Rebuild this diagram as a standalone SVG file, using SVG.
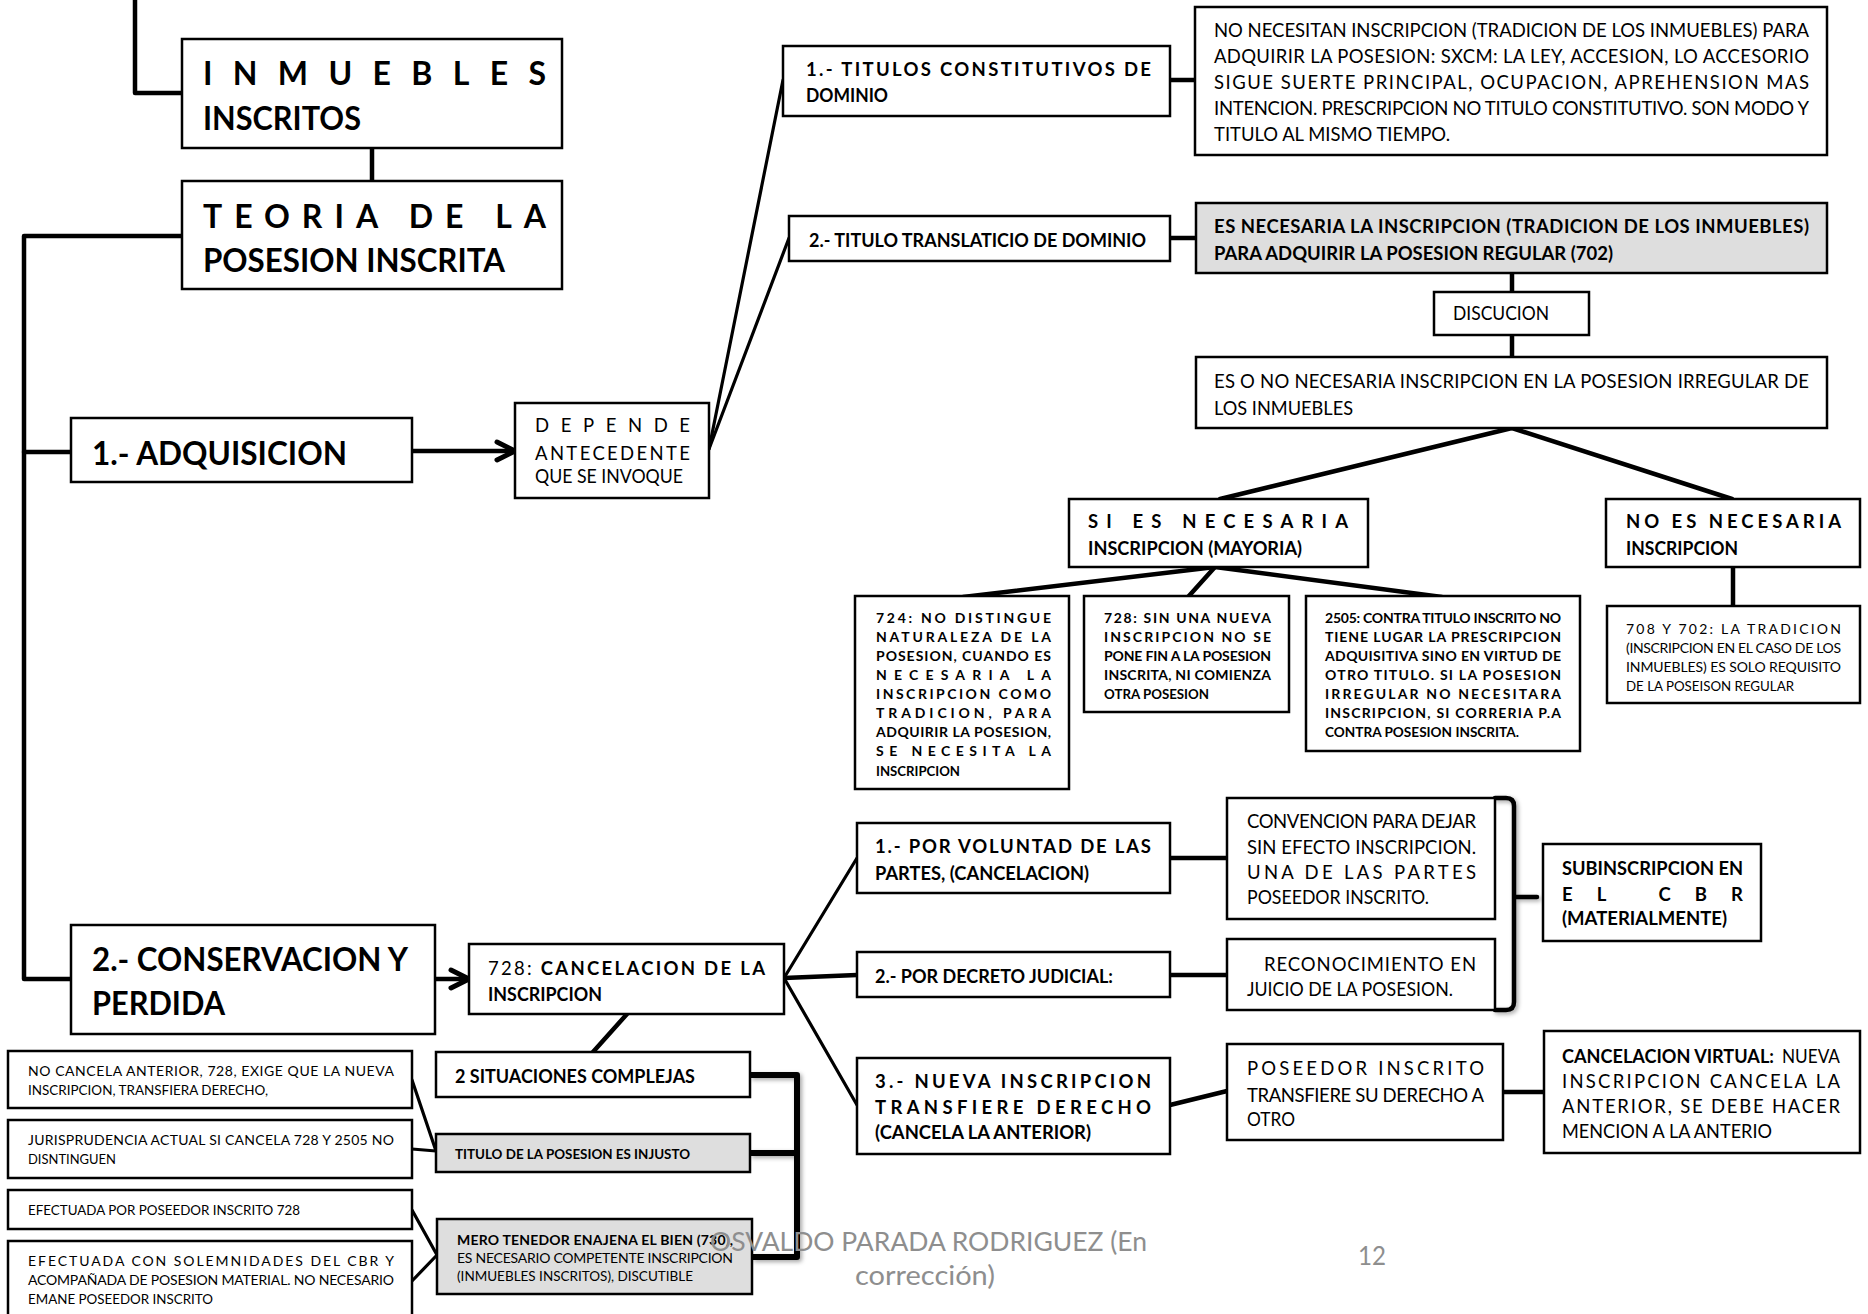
<svg xmlns="http://www.w3.org/2000/svg" width="1868" height="1314" viewBox="0 0 1868 1314">
<style>
.bx{fill:#fff;stroke:#000;stroke-width:2.5}
.gx{fill:#dedede;stroke:#000;stroke-width:2.5}
.c{fill:none;stroke:#000;stroke-width:4.5;stroke-linecap:round;stroke-linejoin:round}
.c3{fill:none;stroke:#000;stroke-width:3.2;stroke-linecap:round}
.c6{fill:none;stroke:#000;stroke-width:6;stroke-linejoin:round}
text{font-family:Lato,"Open Sans","Liberation Sans",sans-serif;fill:#000}
.b{font-weight:bold}
.r{font-weight:normal}
.xl{font-size:32px;font-weight:bold}
.md{font-size:18.5px}
.sm{font-size:14px}
.ft{font-size:27.5px;fill:#8e8e8e}
</style>
<defs>
<marker id="arr" viewBox="0 0 24 24" refX="21" refY="12" markerWidth="24" markerHeight="24" markerUnits="userSpaceOnUse" orient="auto">
<path d="M3,3 L21,12 L3,21" fill="none" stroke="#000" stroke-width="5" stroke-linecap="round" stroke-linejoin="round"/>
</marker>
<filter id="sh" x="-20%" y="-20%" width="140%" height="140%">
<feDropShadow dx="2" dy="2" stdDeviation="2" flood-color="#000" flood-opacity="0.35"/>
</filter>
</defs>

<g id="connectors">
<path class="c" d="M135,0 V93 H182"/>
<path class="c" d="M372,148 V181"/>
<path class="c" d="M182,236 H24 V979 H71"/>
<path class="c" d="M24,452 H71"/>
<path class="c" d="M412,451 H515" marker-end="url(#arr)"/>
<path class="c3" d="M709,449 L783,80"/>
<path class="c3" d="M709,449 L789,238"/>
<path class="c" d="M1170,80 H1195"/>
<path class="c" d="M1170,238 H1196"/>
<path class="c" d="M1512,273 V292"/>
<path class="c" d="M1512,335 V357"/>
<path class="c" d="M1512,428 L1220,499"/>
<path class="c" d="M1512,428 L1732,499"/>
<path class="c" d="M1215,567 L963,597"/>
<path class="c" d="M1215,567 L1188,597"/>
<path class="c" d="M1215,567 L1442,597"/>
<path class="c" d="M1733,567 V606"/>
<path class="c" d="M435,979 H469" marker-end="url(#arr)"/>
<path class="c" d="M627,1014 L593,1052"/>
<path class="c3" d="M784,978 L857,858"/>
<path class="c" d="M784,978 L857,975"/>
<path class="c3" d="M784,978 L857,1105"/>
<path class="c" d="M1170,858 H1227"/>
<path class="c" d="M1170,975 H1227"/>
<path class="c" d="M1170,1105 L1227,1091"/>
<path class="c" d="M1503,1092 H1544"/>
<path class="c" filter="url(#sh)" d="M1495,798 H1506 Q1514,798 1514,806 V1002 Q1514,1010 1506,1010 H1495 M1514,897 H1537"/>
<path class="c6" filter="url(#sh)" d="M750,1075 H797 V1257 H752 M797,1153 H750"/>
<path class="c3" d="M412,1080 L436,1151"/>
<path class="c3" d="M412,1149 L436,1151"/>
<path class="c3" d="M412,1210 L437,1255"/>
<path class="c3" d="M412,1281 L437,1255"/>
</g>

<g id="n-inmuebles">
<rect class="bx" x="182" y="39" width="380" height="109"/>
<text class="xl" x="203" y="85" textLength="343" lengthAdjust="spacing">INMUEBLES</text>
<text class="xl" x="203" y="130" textLength="158" lengthAdjust="spacingAndGlyphs">INSCRITOS</text>
</g>

<g id="n-teoria">
<rect class="bx" x="182" y="181" width="380" height="108"/>
<text class="xl" x="203" y="228" textLength="343" lengthAdjust="spacing">TEORIA DE LA</text>
<text class="xl" x="203" y="272" textLength="302" lengthAdjust="spacingAndGlyphs">POSESION INSCRITA</text>
</g>

<g id="n-adquisicion">
<rect class="bx" x="71" y="418" width="341" height="64"/>
<text class="xl" x="92" y="465" textLength="255" lengthAdjust="spacingAndGlyphs">1.- ADQUISICION</text>
</g>

<g id="n-depende">
<rect class="bx" x="515" y="403" width="194" height="95"/>
<text class="md" x="535" y="432" textLength="155" lengthAdjust="spacing">DEPENDE</text>
<text class="md" x="535" y="460" textLength="155" lengthAdjust="spacing">ANTECEDENTE</text>
<text class="md" x="535" y="483" textLength="148" lengthAdjust="spacingAndGlyphs">QUE SE INVOQUE</text>
</g>

<g id="n-titulos-constitutivos">
<rect class="bx" x="783" y="46" width="387" height="70"/>
<text class="md b" x="806" y="76" textLength="345" lengthAdjust="spacing">1.- TITULOS CONSTITUTIVOS DE</text>
<text class="md b" x="806" y="102" textLength="82" lengthAdjust="spacingAndGlyphs">DOMINIO</text>
</g>

<g id="n-no-necesitan">
<rect class="bx" x="1195" y="7" width="632" height="148"/>
<text class="md" x="1214" y="37" textLength="595" lengthAdjust="spacing">NO NECESITAN INSCRIPCION (TRADICION DE LOS INMUEBLES) PARA</text>
<text class="md" x="1214" y="63" textLength="595" lengthAdjust="spacing">ADQUIRIR LA POSESION: SXCM: LA LEY, ACCESION, LO ACCESORIO</text>
<text class="md" x="1214" y="89" textLength="595" lengthAdjust="spacing">SIGUE SUERTE PRINCIPAL, OCUPACION, APREHENSION MAS</text>
<text class="md" x="1214" y="115" textLength="595" lengthAdjust="spacing">INTENCION. PRESCRIPCION NO TITULO CONSTITUTIVO. SON MODO Y</text>
<text class="md" x="1214" y="141" textLength="236" lengthAdjust="spacingAndGlyphs">TITULO AL MISMO TIEMPO.</text>
</g>

<g id="n-titulo-translaticio">
<rect class="bx" x="789" y="216" width="381" height="45"/>
<text class="md b" x="809" y="247" textLength="337" lengthAdjust="spacingAndGlyphs">2.- TITULO TRANSLATICIO DE DOMINIO</text>
</g>

<g id="n-es-necesaria">
<rect class="gx" x="1196" y="203" width="631" height="70"/>
<text class="md b" x="1214" y="233" textLength="595" lengthAdjust="spacing">ES NECESARIA LA INSCRIPCION (TRADICION DE LOS INMUEBLES)</text>
<text class="md b" x="1214" y="260" textLength="399" lengthAdjust="spacingAndGlyphs">PARA ADQUIRIR LA POSESION REGULAR (702)</text>
</g>

<g id="n-discucion">
<rect class="bx" x="1434" y="292" width="155" height="43"/>
<text class="md" x="1453" y="320" textLength="96" lengthAdjust="spacingAndGlyphs">DISCUCION</text>
</g>

<g id="n-es-o-no">
<rect class="bx" x="1196" y="357" width="631" height="71"/>
<text class="md" x="1214" y="388" textLength="595" lengthAdjust="spacing">ES O NO NECESARIA INSCRIPCION EN LA POSESION IRREGULAR DE</text>
<text class="md" x="1214" y="415" textLength="139" lengthAdjust="spacingAndGlyphs">LOS INMUEBLES</text>
</g>

<g id="n-si-es">
<rect class="bx" x="1069" y="499" width="299" height="68"/>
<text class="md b" x="1088" y="528" textLength="260" lengthAdjust="spacing">SI ES NECESARIA</text>
<text class="md b" x="1088" y="555" textLength="214" lengthAdjust="spacingAndGlyphs">INSCRIPCION (MAYORIA)</text>
</g>

<g id="n-no-es">
<rect class="bx" x="1606" y="499" width="254" height="68"/>
<text class="md b" x="1626" y="528" textLength="215" lengthAdjust="spacing">NO ES NECESARIA</text>
<text class="md b" x="1626" y="555" textLength="112" lengthAdjust="spacingAndGlyphs">INSCRIPCION</text>
</g>

<g id="n-724">
<rect class="bx" x="855" y="596" width="214" height="193"/>
<text class="sm b" x="876" y="623" textLength="175" lengthAdjust="spacing">724: NO DISTINGUE</text>
<text class="sm b" x="876" y="642" textLength="175" lengthAdjust="spacing">NATURALEZA DE LA</text>
<text class="sm b" x="876" y="661" textLength="175" lengthAdjust="spacing">POSESION, CUANDO ES</text>
<text class="sm b" x="876" y="680" textLength="175" lengthAdjust="spacing">NECESARIA LA</text>
<text class="sm b" x="876" y="699" textLength="175" lengthAdjust="spacing">INSCRIPCION COMO</text>
<text class="sm b" x="876" y="718" textLength="175" lengthAdjust="spacing">TRADICION, PARA</text>
<text class="sm b" x="876" y="737" textLength="175" lengthAdjust="spacing">ADQUIRIR LA POSESION,</text>
<text class="sm b" x="876" y="756" textLength="175" lengthAdjust="spacing">SE NECESITA LA</text>
<text class="sm b" x="876" y="776" textLength="84" lengthAdjust="spacingAndGlyphs">INSCRIPCION</text>
</g>

<g id="n-728-sin">
<rect class="bx" x="1084" y="596" width="205" height="116"/>
<text class="sm b" x="1104" y="623" textLength="167" lengthAdjust="spacing">728: SIN UNA NUEVA</text>
<text class="sm b" x="1104" y="642" textLength="167" lengthAdjust="spacing">INSCRIPCION NO SE</text>
<text class="sm b" x="1104" y="661" textLength="167" lengthAdjust="spacing">PONE FIN A LA POSESION</text>
<text class="sm b" x="1104" y="680" textLength="167" lengthAdjust="spacing">INSCRITA, NI COMIENZA</text>
<text class="sm b" x="1104" y="699" textLength="105" lengthAdjust="spacingAndGlyphs">OTRA POSESION</text>
</g>

<g id="n-2505">
<rect class="bx" x="1306" y="596" width="274" height="155"/>
<text class="sm b" x="1325" y="623" textLength="236" lengthAdjust="spacing">2505: CONTRA TITULO INSCRITO NO</text>
<text class="sm b" x="1325" y="642" textLength="236" lengthAdjust="spacing">TIENE LUGAR LA PRESCRIPCION</text>
<text class="sm b" x="1325" y="661" textLength="236" lengthAdjust="spacing">ADQUISITIVA SINO EN VIRTUD DE</text>
<text class="sm b" x="1325" y="680" textLength="236" lengthAdjust="spacing">OTRO TITULO. SI LA POSESION</text>
<text class="sm b" x="1325" y="699" textLength="236" lengthAdjust="spacing">IRREGULAR NO NECESITARA</text>
<text class="sm b" x="1325" y="718" textLength="236" lengthAdjust="spacing">INSCRIPCION, SI CORRERIA P.A</text>
<text class="sm b" x="1325" y="737" textLength="194" lengthAdjust="spacingAndGlyphs">CONTRA POSESION INSCRITA.</text>
</g>

<g id="n-708">
<rect class="bx" x="1607" y="606" width="253" height="97"/>
<text class="sm" x="1626" y="634" textLength="215" lengthAdjust="spacing">708 Y 702: LA TRADICION</text>
<text class="sm" x="1626" y="653" textLength="215" lengthAdjust="spacing">(INSCRIPCION EN EL CASO DE LOS</text>
<text class="sm" x="1626" y="672" textLength="215" lengthAdjust="spacing">INMUEBLES) ES SOLO REQUISITO</text>
<text class="sm" x="1626" y="691" textLength="168" lengthAdjust="spacingAndGlyphs">DE LA POSEISON REGULAR</text>
</g>

<g id="n-conservacion">
<rect class="bx" x="71" y="925" width="364" height="109"/>
<text class="xl" x="92" y="971" textLength="316" lengthAdjust="spacingAndGlyphs">2.- CONSERVACION Y</text>
<text class="xl" x="92" y="1015" textLength="133" lengthAdjust="spacingAndGlyphs">PERDIDA</text>
</g>

<g id="n-728-cancelacion">
<rect class="bx" x="469" y="944" width="315" height="70"/>
<text class="md b" x="488" y="975" textLength="277" lengthAdjust="spacing"><tspan class="r">728:</tspan> CANCELACION DE LA</text>
<text class="md b" x="488" y="1001" textLength="114" lengthAdjust="spacingAndGlyphs">INSCRIPCION</text>
</g>

<g id="n-2-situaciones">
<rect class="bx" x="436" y="1052" width="314" height="45"/>
<text class="md b" x="455" y="1083" textLength="240" lengthAdjust="spacingAndGlyphs">2 SITUACIONES COMPLEJAS</text>
</g>

<g id="n-titulo-injusto">
<rect class="gx" x="436" y="1134" width="314" height="38"/>
<text class="sm b" x="455" y="1159" textLength="235" lengthAdjust="spacingAndGlyphs">TITULO DE LA POSESION ES INJUSTO</text>
</g>

<g id="n-mero-tenedor">
<rect class="gx" x="437" y="1219" width="315" height="75"/>
<text class="sm b" x="457" y="1245" textLength="276" lengthAdjust="spacing">MERO TENEDOR ENAJENA EL BIEN (730),</text>
<text class="sm" x="457" y="1263" textLength="276" lengthAdjust="spacing">ES NECESARIO COMPETENTE INSCRIPCION</text>
<text class="sm" x="457" y="1281" textLength="236" lengthAdjust="spacingAndGlyphs">(INMUEBLES INSCRITOS), DISCUTIBLE</text>
</g>

<g id="n-no-cancela">
<rect class="bx" x="8" y="1051" width="404" height="57"/>
<text class="sm" x="28" y="1076" textLength="366" lengthAdjust="spacing">NO CANCELA ANTERIOR, 728, EXIGE QUE LA NUEVA</text>
<text class="sm" x="28" y="1095" textLength="240" lengthAdjust="spacingAndGlyphs">INSCRIPCION, TRANSFIERA DERECHO,</text>
</g>

<g id="n-jurisprudencia">
<rect class="bx" x="8" y="1120" width="404" height="58"/>
<text class="sm" x="28" y="1145" textLength="366" lengthAdjust="spacing">JURISPRUDENCIA ACTUAL SI CANCELA 728 Y 2505 NO</text>
<text class="sm" x="28" y="1164" textLength="88" lengthAdjust="spacingAndGlyphs">DISNTINGUEN</text>
</g>

<g id="n-efectuada-por">
<rect class="bx" x="8" y="1190" width="404" height="39"/>
<text class="sm" x="28" y="1215" textLength="272" lengthAdjust="spacingAndGlyphs">EFECTUADA POR POSEEDOR INSCRITO 728</text>
</g>

<g id="n-efectuada-con">
<rect class="bx" x="8" y="1241" width="404" height="82"/>
<text class="sm" x="28" y="1266" textLength="366" lengthAdjust="spacing">EFECTUADA CON SOLEMNIDADES DEL CBR Y</text>
<text class="sm" x="28" y="1285" textLength="366" lengthAdjust="spacing">ACOMPAÑADA DE POSESION MATERIAL. NO NECESARIO</text>
<text class="sm" x="28" y="1304" textLength="185" lengthAdjust="spacingAndGlyphs">EMANE POSEEDOR INSCRITO</text>
</g>

<g id="n-voluntad">
<rect class="bx" x="857" y="823" width="313" height="70"/>
<text class="md b" x="875" y="853" textLength="276" lengthAdjust="spacing">1.- POR VOLUNTAD DE LAS</text>
<text class="md b" x="875" y="880" textLength="214" lengthAdjust="spacingAndGlyphs">PARTES, (CANCELACION)</text>
</g>

<g id="n-convencion">
<rect class="bx" x="1227" y="798" width="268" height="121"/>
<text class="md" x="1247" y="828" textLength="229" lengthAdjust="spacing">CONVENCION PARA DEJAR</text>
<text class="md" x="1247" y="854" textLength="229" lengthAdjust="spacing">SIN EFECTO INSCRIPCION.</text>
<text class="md" x="1247" y="879" textLength="229" lengthAdjust="spacing">UNA DE LAS PARTES</text>
<text class="md" x="1247" y="904" textLength="182" lengthAdjust="spacingAndGlyphs">POSEEDOR INSCRITO.</text>
</g>

<g id="n-decreto">
<rect class="bx" x="857" y="952" width="313" height="45"/>
<text class="md b" x="875" y="983" textLength="238" lengthAdjust="spacingAndGlyphs">2.- POR DECRETO JUDICIAL:</text>
</g>

<g id="n-reconocimiento">
<rect class="bx" x="1227" y="939" width="268" height="71"/>
<text class="md" x="1264" y="971" textLength="212" lengthAdjust="spacing">RECONOCIMIENTO EN</text>
<text class="md" x="1247" y="996" textLength="206" lengthAdjust="spacingAndGlyphs">JUICIO DE LA POSESION.</text>
</g>

<g id="n-subinscripcion">
<rect class="bx" x="1543" y="844" width="218" height="97"/>
<text class="md b" x="1562" y="875" textLength="181" lengthAdjust="spacingAndGlyphs">SUBINSCRIPCION EN</text>
<text class="md b" x="1562" y="901" textLength="181" lengthAdjust="spacing">EL CBR</text>
<text class="md b" x="1562" y="925" textLength="165" lengthAdjust="spacingAndGlyphs">(MATERIALMENTE)</text>
</g>

<g id="n-nueva-inscripcion">
<rect class="bx" x="857" y="1058" width="313" height="96"/>
<text class="md b" x="875" y="1088" textLength="276" lengthAdjust="spacing">3.- NUEVA INSCRIPCION</text>
<text class="md b" x="875" y="1114" textLength="276" lengthAdjust="spacing">TRANSFIERE DERECHO</text>
<text class="md b" x="875" y="1139" textLength="216" lengthAdjust="spacingAndGlyphs">(CANCELA LA ANTERIOR)</text>
</g>

<g id="n-poseedor">
<rect class="bx" x="1227" y="1044" width="276" height="96"/>
<text class="md" x="1247" y="1075" textLength="237" lengthAdjust="spacing">POSEEDOR INSCRITO</text>
<text class="md" x="1247" y="1102" textLength="237" lengthAdjust="spacing">TRANSFIERE SU DERECHO A</text>
<text class="md" x="1247" y="1126" textLength="48" lengthAdjust="spacingAndGlyphs">OTRO</text>
</g>

<g id="n-cancelacion-virtual">
<rect class="bx" x="1544" y="1031" width="316" height="122"/>
<text class="md b" x="1562" y="1063" textLength="212" lengthAdjust="spacingAndGlyphs">CANCELACION VIRTUAL:</text>
<text class="md" x="1782" y="1063" textLength="58" lengthAdjust="spacingAndGlyphs">NUEVA</text>
<text class="md" x="1562" y="1088" textLength="278" lengthAdjust="spacing">INSCRIPCION CANCELA LA</text>
<text class="md" x="1562" y="1113" textLength="278" lengthAdjust="spacing">ANTERIOR, SE DEBE HACER</text>
<text class="md" x="1562" y="1138" textLength="210" lengthAdjust="spacingAndGlyphs">MENCION A LA ANTERIO</text>
</g>

<g id="footer">
<text class="ft" x="710" y="1251" textLength="437" lengthAdjust="spacingAndGlyphs">OSVALDO PARADA RODRIGUEZ (En</text>
<text class="ft" x="855" y="1285" textLength="140" lengthAdjust="spacingAndGlyphs">corrección)</text>
<text class="ft" x="1358" y="1265" textLength="28" lengthAdjust="spacingAndGlyphs">12</text>
</g>
</svg>
